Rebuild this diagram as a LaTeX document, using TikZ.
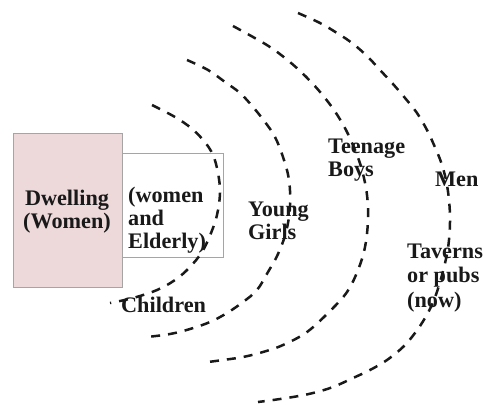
\documentclass[tikz,border=0pt]{standalone}
\usepackage{fontspec}
\setmainfont{Liberation Serif}
\definecolor{pinkfill}{RGB}{237,217,218}
\definecolor{boxline}{RGB}{165,165,165}
\definecolor{inkc}{RGB}{25,25,25}
\begin{document}
\begin{tikzpicture}[x=1bp,y=-1bp,
  lbl/.style={font=\bfseries\fontsize{22.3}{23}\selectfont, text=inkc, inner sep=0pt, align=left},
  ring/.style={line width=2.5bp, dash pattern=on 9bp off 8bp, draw=inkc},
  box/.style={draw=boxline, line width=0.9bp, inner sep=0pt, anchor=north west}]
\useasboundingbox (0,0) rectangle (483,406);
% boxes
\node[box, fill=white, minimum width=101bp, minimum height=104bp] (elderbox) at (122,153) {};
\node[box, fill=pinkfill, minimum width=109bp, minimum height=154bp] (dwellbox) at (13,133) {};
% rings
\draw[ring] plot[smooth, tension=0.6] coordinates {(152,105) (175,117) (191,128) (204,141) (213,155) (218,173) (220,193) (217,215) (211,233) (202,252) (189,268) (175,280) (157,290) (133,298) (110,303)};
\draw[ring] plot[smooth, tension=0.6] coordinates {(187,60) (208,70) (225,82) (240,93) (253,107) (265,122) (275,137) (283,157) (289,180) (290,207) (286,232) (278,254) (268,272) (257,290) (243,302) (227,313) (210,322) (190,329) (170,334) (147,337)};
\draw[ring] plot[smooth, tension=0.6] coordinates {(233,26) (253,37) (270,47) (285,58) (299,70) (313,84) (325,98) (336,113) (346,130) (355,150) (362,170) (367,195) (368,220) (365,247) (358,270) (347,292) (330,311) (307,332) (283,345) (263,352) (243,357) (223,360) (208,362)};
\draw[ring] plot[smooth, tension=0.6] coordinates {(298,13) (320,23) (337,33) (352,43) (367,56) (380,70) (393,84) (405,98) (417,113) (427,130) (434,145) (441,162) (446,180) (449,200) (450,222) (448,248) (442,275) (434,300) (425,318) (415,333) (403,347) (387,360) (370,370) (353,378) (333,387) (313,393) (293,397) (273,400) (258,402)};
% labels
\node[lbl, align=center] (dwell) at (67,212) {Dwelling\\(Women)};
\node[lbl, anchor=west] (women) at (128,220) {(women\\and\\Elderly)};
\node[lbl, anchor=west] (children) at (121,305) {Children};
\node[lbl, anchor=west] (girls) at (248,221) {Young\\Girls};
\node[lbl, anchor=west] (boys) at (328,160) {Teenage\\Boys};
\node[lbl, anchor=west] (men) at (435,179) {Men};
\node[lbl, anchor=west, font=\bfseries\fontsize{22.3}{24.5}\selectfont] (taverns) at (407,278) {Taverns\\or pubs\\(now)};
\end{tikzpicture}
\end{document}
